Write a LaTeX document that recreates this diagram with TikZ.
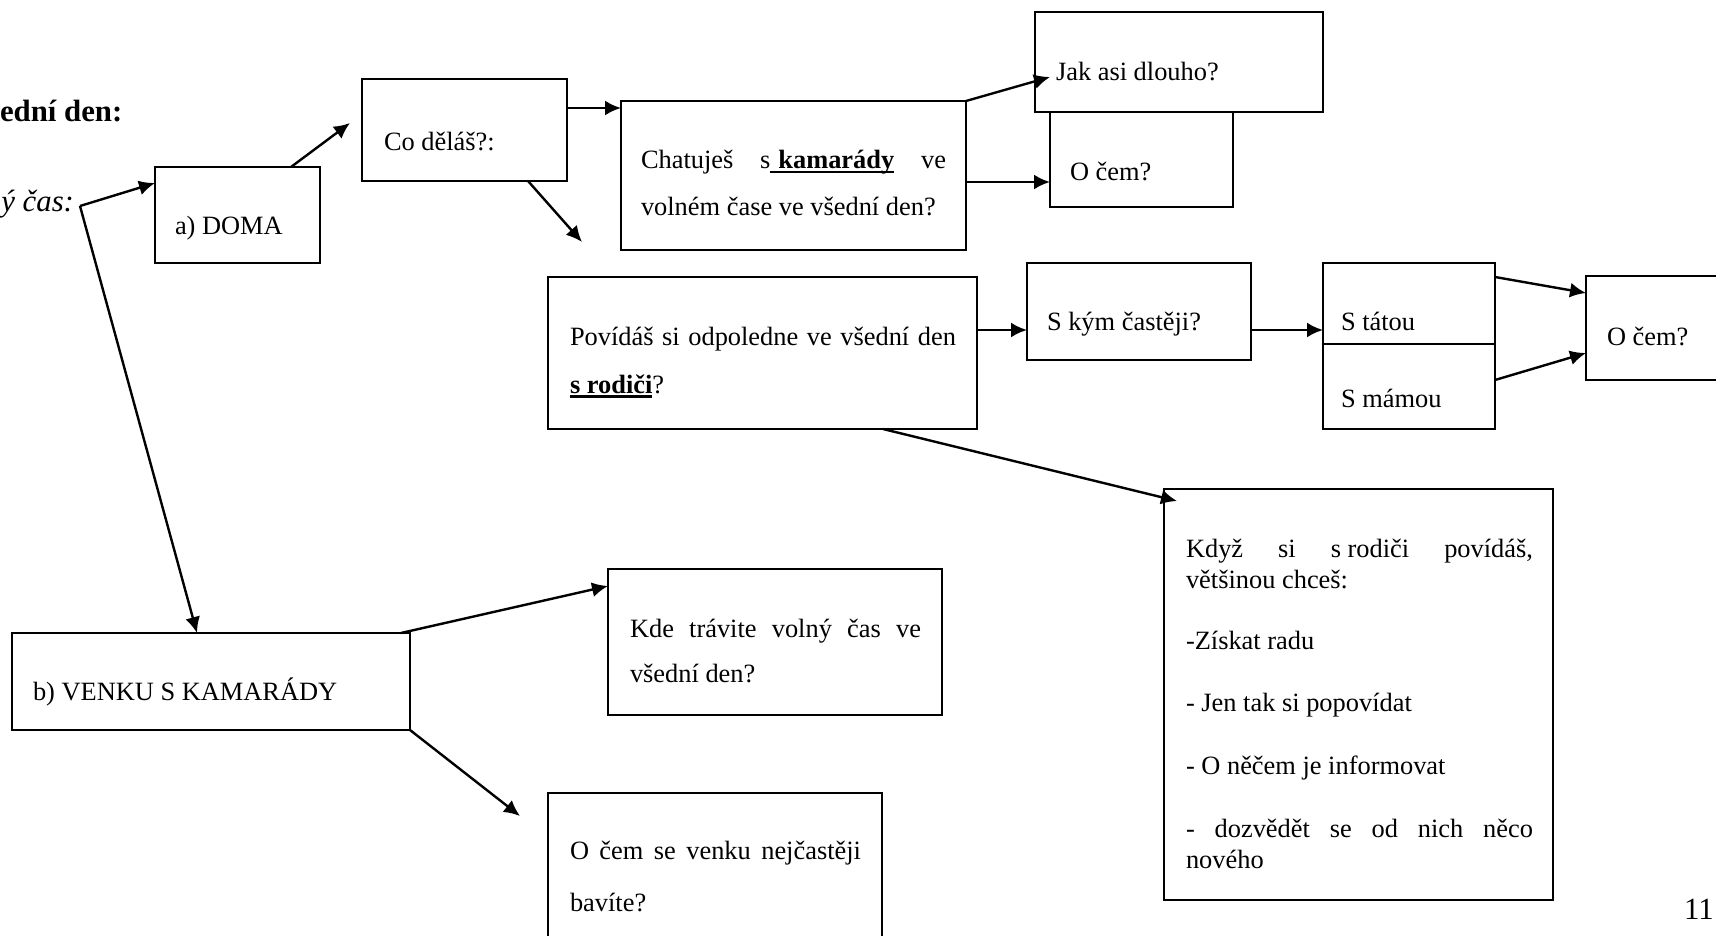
\documentclass[tikz,border=0pt]{standalone}
\usepackage{fontspec}
\setmainfont{Liberation Serif}
\usetikzlibrary{arrows.meta}
\newcommand{\boxfont}{\fontsize{26.4}{30}\selectfont}
\newcommand{\headfont}{\fontsize{30.8}{34}\selectfont}
\newcommand{\undl}[1]{\leavevmode\setbox0=\hbox{#1}\rlap{\rule[-4.5pt]{\wd0}{2.2pt}}\box0\relax}
\tikzstyle{box}=[rectangle,draw,line width=1.6pt,inner sep=0,outer sep=0,anchor=north west]
\tikzstyle{txt}=[inner sep=0,outer sep=0,anchor=base west,font=\boxfont]
\tikzstyle{arrow}=[line width=2.4pt,-{Latex[length=16pt,width=15pt]}]
\begin{document}
\begin{tikzpicture}[x=1pt,y=-1pt]
\useasboundingbox (0,0) rectangle (1716,936);

\node[txt,font=\headfont\bfseries] (head) at (0,122) {ední den:};
\node[txt,anchor=base east,font=\headfont\itshape] (cas) at (74,212) {ý čas:};
\node[txt,font=\headfont] (page) at (1684,919) {11};

\node[box,minimum width=165pt,minimum height=96pt] (doma) at (155,167) {};
\node[box,minimum width=205pt,minimum height=102pt] (co) at (362,79) {};
\node[box,minimum width=345pt,minimum height=149pt] (chat) at (621,101) {};
\node[box,minimum width=288pt,minimum height=100pt] (jak) at (1035,12) {};
\node[box,minimum width=183pt,minimum height=95pt] (ocem) at (1050,112) {};
\node[box,minimum width=429pt,minimum height=152pt] (pov) at (548,277) {};
\node[box,minimum width=224pt,minimum height=97pt] (skym) at (1027,263) {};
\node[box,minimum width=172pt,minimum height=81pt] (tata) at (1323,263) {};
\node[box,minimum width=172pt,minimum height=85pt] (mama) at (1323,344) {};
\node[box,minimum width=150pt,minimum height=104pt] (ocemb) at (1586,276) {};
\node[box,minimum width=389pt,minimum height=411pt] (kdyz) at (1164,489) {};
\node[box,minimum width=398pt,minimum height=97pt] (venku) at (12,633) {};
\node[box,minimum width=334pt,minimum height=146pt] (kde) at (608,569) {};
\node[box,minimum width=334pt,minimum height=160pt] (bav) at (548,793) {};

\node[txt] (doma-t) at ([shift={(20,68)}]doma.north west) {a) DOMA};
\node[txt] (co-t) at ([shift={(22,72)}]co.north west) {Co děláš?:};
\node[txt] (chat-t1) at ([shift={(20,68)}]chat.north west) {\makebox[305pt][s]{Chatuješ s\undl{\hspace{.3em}\textbf{kamarády}} ve}};
\node[txt] (chat-t2) at ([shift={(20,115)}]chat.north west) {volném čase ve všední den?};
\node[txt] (jak-t) at ([shift={(21,69)}]jak.north west) {Jak asi dlouho?};
\node[txt] (ocem-t) at ([shift={(20,69)}]ocem.north west) {O čem?};
\node[txt] (pov-t1) at ([shift={(22,68)}]pov.north west) {\makebox[386pt][s]{Povídáš si odpoledne ve všední den}};
\node[txt] (pov-t2) at ([shift={(22,116)}]pov.north west) {\undl{\textbf{s rodiči}}?};
\node[txt] (skym-t) at ([shift={(20,67)}]skym.north west) {S kým častěji?};
\node[txt] (tata-t) at ([shift={(18,67)}]tata.north west) {S tátou};
\node[txt] (mama-t) at ([shift={(18,63)}]mama.north west) {S mámou};
\node[txt] (ocemb-t) at ([shift={(21,69)}]ocemb.north west) {O čem?};
\node[txt] (venku-t) at ([shift={(21,67)}]venku.north west) {b) VENKU S KAMARÁDY};
\node[txt] (kde-t1) at ([shift={(22,68)}]kde.north west) {\makebox[291pt][s]{Kde trávite volný čas ve}};
\node[txt] (kde-t2) at ([shift={(22,113)}]kde.north west) {všední den?};
\node[txt] (bav-t1) at ([shift={(22,66)}]bav.north west) {\makebox[291pt][s]{O čem se venku nejčastěji}};
\node[txt] (bav-t2) at ([shift={(22,118)}]bav.north west) {bavíte?};
\foreach \n/\y/\t in {1/68/{\makebox[347pt][s]{Když si s\kern.25em rodiči povídáš,}},2/99/{většinou chceš:},3/160/{-Získat radu},4/222/{- Jen tak si popovídat},5/285/{- O něčem je informovat},6/348/{\makebox[347pt][s]{- dozvědět se od nich něco}},7/379/{nového}}
	\node[txt] (kdyz-\n) at ([shift={(22,\y)}]kdyz.north west) {\t};

\coordinate (split) at (80,206);
\coordinate (coTip) at ([shift={(-12,44)}]co.north west);
\coordinate (povTip) at ([shift={(34,-35)}]pov.north west);
\coordinate (jakTip) at ([shift={(15,65)}]jak.north west);
\coordinate (kdyzTip) at ([shift={(13,12)}]kdyz.north west);
\coordinate (bavTip) at ([shift={(-28,23)}]bav.north west);

\draw[arrow] (split) -- ([shift={(0,16)}]doma.north west);
\draw[arrow] (split) -- ([shift={(185,0)}]venku.north west);
\draw[arrow] ([shift={(136,0)}]doma.north west) -- (coTip);
\draw[arrow] ([shift={(0,29)}]co.north east) -- ([shift={(0,7)}]chat.north west);
\draw[arrow] ([shift={(-39,0)}]co.south east) -- (povTip);
\draw[arrow] (chat.north east) -- (jakTip);
\draw[arrow] ([shift={(0,81)}]chat.north east) -- ([shift={(0,70)}]ocem.north west);
\draw[arrow] ([shift={(0,53)}]pov.north east) -- ([shift={(0,67)}]skym.north west);
\draw[arrow] ([shift={(0,67)}]skym.north east) -- ([shift={(0,67)}]tata.north west);
\draw[arrow] ([shift={(0,14)}]tata.north east) -- ([shift={(0,17)}]ocemb.north west);
\draw[arrow] ([shift={(0,36)}]mama.north east) -- ([shift={(0,77)}]ocemb.north west);
\draw[arrow] ([shift={(-94,0)}]pov.south east) -- (kdyzTip);
\draw[arrow] ([shift={(-9,0)}]venku.north east) -- ([shift={(0,17)}]kde.north west);
\draw[arrow] (venku.south east) -- (bavTip);
\end{tikzpicture}
\end{document}
